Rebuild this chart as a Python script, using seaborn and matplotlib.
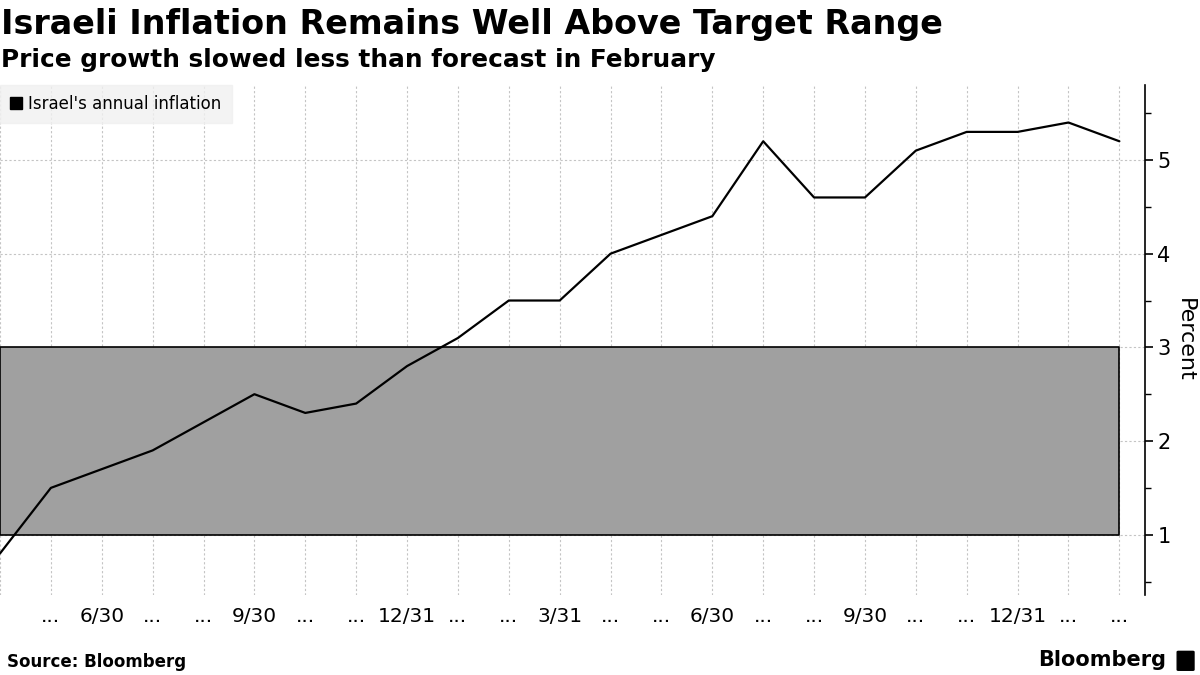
"""Israeli annual inflation vs the Bank of Israel target range."""

import matplotlib
matplotlib.use("Agg")

import matplotlib.pyplot as plt
import pandas as pd
import seaborn as sns
from matplotlib.patches import FancyBboxPatch, Patch
from matplotlib.ticker import MultipleLocator

months = [
    "2021-04", "2021-05", "2021-06", "2021-07", "2021-08", "2021-09", "2021-10", "2021-11",
    "2021-12", "2022-01", "2022-02", "2022-03", "2022-04", "2022-05", "2022-06", "2022-07",
    "2022-08", "2022-09", "2022-10", "2022-11", "2022-12", "2023-01", "2023-02",
]
inflation = [
    0.8, 1.5, 1.7, 1.9, 2.2, 2.5, 2.3, 2.4, 2.8, 3.1, 3.5, 3.5,
    4.0, 4.2, 4.4, 5.2, 4.6, 4.6, 5.1, 5.3, 5.3, 5.4, 5.2,
]
tick_labels = [
    "", "...", "6/30", "...", "...", "9/30", "...", "...", "12/31", "...", "...", "3/31",
    "...", "...", "6/30", "...", "...", "9/30", "...", "...", "12/31", "...", "...",
]
target_low = 1
target_high = 3

df = pd.DataFrame({"month": months, "inflation": inflation})
df["pos"] = range(len(df))

sns.set_theme(style="white")
plt.rcParams["font.family"] = ["DejaVu Sans"]
plt.rcParams["text.color"] = "black"
plt.rcParams["axes.labelcolor"] = "black"
plt.rcParams["xtick.color"] = "black"
plt.rcParams["ytick.color"] = "black"

fig = plt.figure(figsize=(12, 6.75), dpi=100)
ax = fig.add_axes([0.0, 0.119, 0.954, 0.755])

ax.fill_between([0, len(df) - 1], target_low, target_high,
                facecolor="#a0a0a0", edgecolor="black", linewidth=1.2, zorder=1)
sns.lineplot(data=df, x="pos", y="inflation", color="black", linewidth=1.6, ax=ax, zorder=3)

ax.set_xlim(0, len(df) - 0.5)
ax.set_ylim(0.36, 5.8)
ax.set_xticks(df["pos"])
ax.set_xticklabels(tick_labels, fontsize=14.5)
ax.yaxis.tick_right()
ax.yaxis.set_label_position("right")
ax.yaxis.set_minor_locator(MultipleLocator(0.5))
ax.set_yticks([1, 2, 3, 4, 5])
ax.tick_params(axis="y", which="major", labelsize=15, length=6, width=1.2, direction="out",
               right=True, left=False, pad=3)
ax.tick_params(axis="y", which="minor", length=4, width=1, right=True, left=False)
ax.tick_params(axis="x", length=0, pad=9)

ax.grid(True, axis="both", which="major", color="#c4c4c4", linestyle=(0, (2, 2)), linewidth=0.8)
ax.set_axisbelow(True)
for side in ["left", "top", "bottom"]:
    ax.spines[side].set_visible(False)
ax.spines["right"].set_color("black")
ax.spines["right"].set_linewidth(1.2)

ax.set_xlabel("")
ax.set_ylabel("Percent", fontsize=16, rotation=-90, va="center")
ax.yaxis.set_label_coords(1.035, 0.5)

handle = Patch(facecolor="black", edgecolor="black")
leg = ax.legend([handle], ["Israel's annual inflation"], loc="upper left", bbox_to_anchor=(0, 1),
                borderaxespad=0, frameon=True, fancybox=False, fontsize=12,
                handlelength=0.7, handleheight=0.7, handletextpad=0.4, borderpad=0.6)
leg.get_frame().set_facecolor("#f0f0f0")
leg.get_frame().set_edgecolor("#f0f0f0")

fig.text(0.001, 0.963, "Israeli Inflation Remains Well Above Target Range",
         fontsize=24, fontweight="bold", va="center", ha="left")
fig.text(0.001, 0.911, "Price growth slowed less than forecast in February",
         fontsize=17.8, fontweight="bold", va="center", ha="left")
fig.text(0.006, 0.019, "Source: Bloomberg", fontsize=12, fontweight="bold", va="center", ha="left")
fig.text(0.972, 0.022, "Bloomberg", fontsize=15, fontweight="bold", va="center", ha="right")
fig.patches.append(FancyBboxPatch((0.982, 0.008), 0.012, 0.026, boxstyle="round,pad=0.001",
                                  transform=fig.transFigure, facecolor="black", edgecolor="black"))

fig.savefig("out.png", dpi=100)
